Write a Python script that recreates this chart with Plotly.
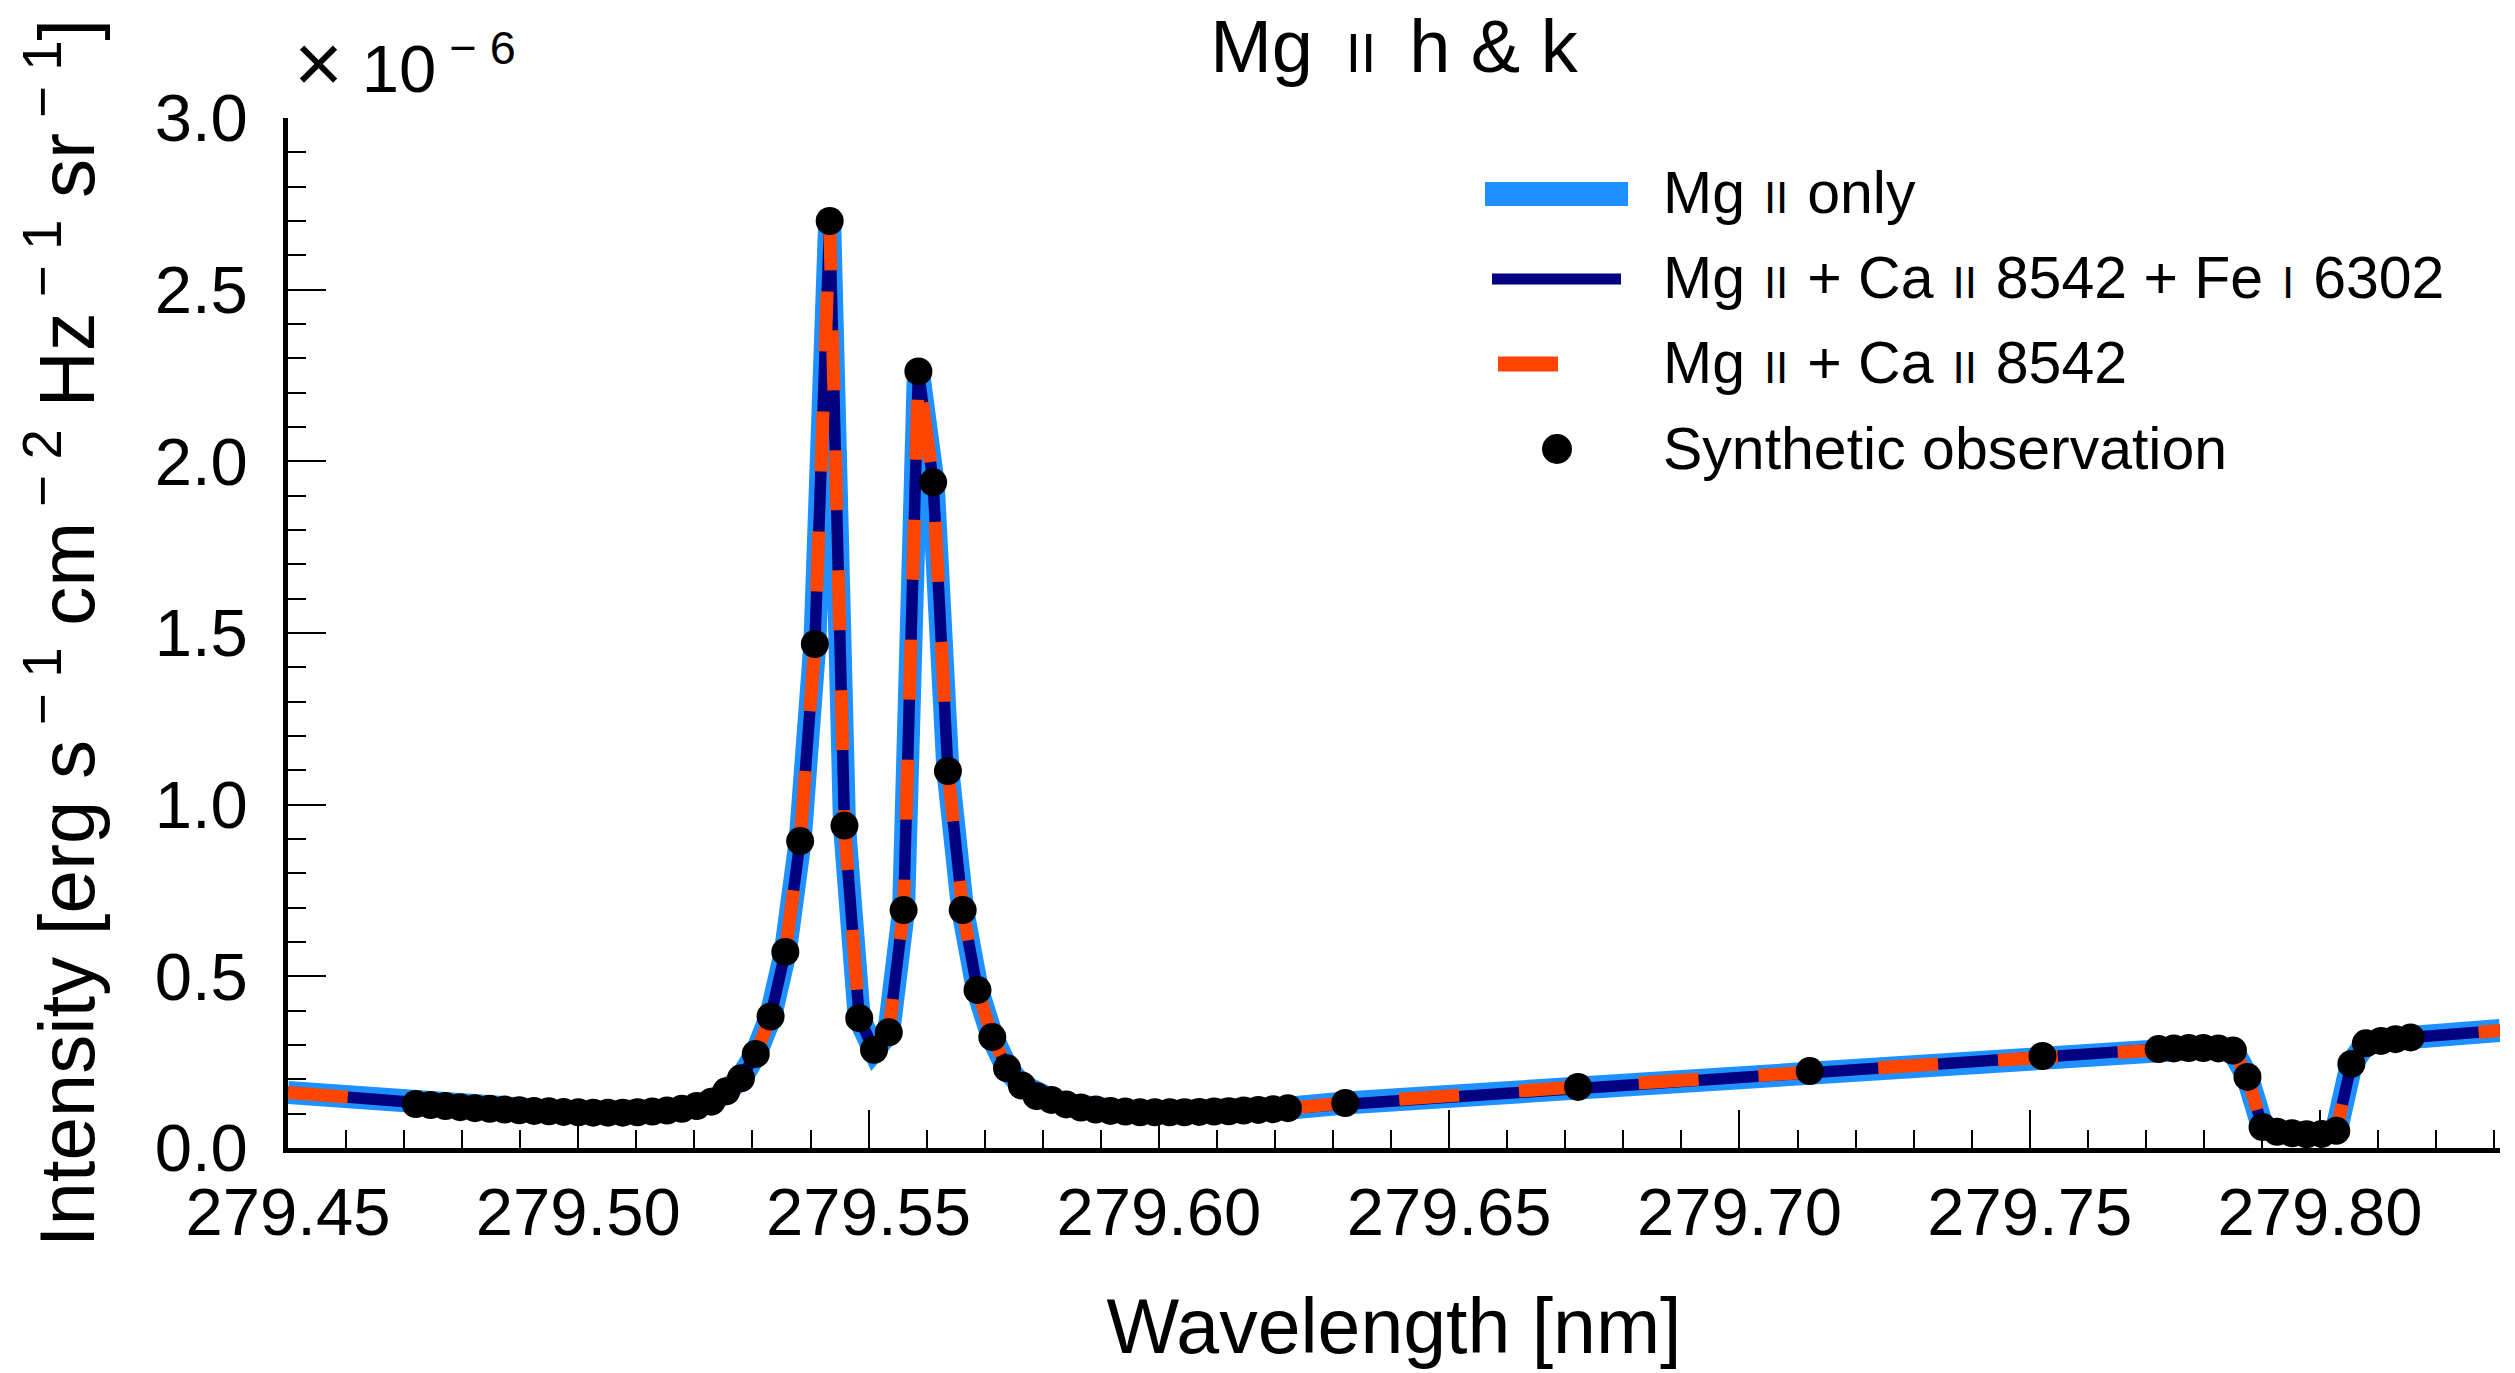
import plotly.graph_objects as go

# ---------------- data (intensity in units of 1e-6 erg s^-1 cm^-2 Hz^-1 sr^-1) ----------------
obs_wavelength = [
    279.47201, 279.47456, 279.47710, 279.47965, 279.48220, 279.48474, 279.48729, 279.48983,
    279.49238, 279.49493, 279.49747, 279.50002, 279.50256, 279.50511, 279.50766, 279.51020,
    279.51275, 279.51529, 279.51784, 279.52039, 279.52293, 279.52548, 279.52802, 279.53057,
    279.53312, 279.53566, 279.53821, 279.54075, 279.54330, 279.54585, 279.54839, 279.55094,
    279.55348, 279.55603, 279.55858, 279.56112, 279.56367, 279.56621, 279.56876, 279.57131,
    279.57385, 279.57640, 279.57894, 279.58149, 279.58404, 279.58658, 279.58913, 279.59167,
    279.59422, 279.59677, 279.59931, 279.60186, 279.60440, 279.60695, 279.60950, 279.61204,
    279.61459, 279.61713, 279.61968, 279.62223,
    279.6321, 279.6722, 279.7121, 279.7522,
    279.7722, 279.7748, 279.7774, 279.7799, 279.7825, 279.7850, 279.7875, 279.7901,
    279.7926, 279.7952, 279.7977, 279.8003, 279.8028, 279.8054, 279.8079, 279.8105,
    279.8130, 279.8156,
]
obs_intensity = [
    0.128, 0.125, 0.122, 0.119, 0.116, 0.114, 0.112, 0.110,
    0.108, 0.107, 0.105, 0.104, 0.103, 0.103, 0.103, 0.104,
    0.106, 0.109, 0.114, 0.122, 0.135, 0.165, 0.203, 0.274,
    0.383, 0.571, 0.894, 1.468, 2.700, 0.939, 0.378, 0.286,
    0.337, 0.693, 2.262, 1.939, 1.098, 0.693, 0.460, 0.323,
    0.232, 0.182, 0.151, 0.140, 0.127, 0.118, 0.112, 0.108,
    0.106, 0.104, 0.104, 0.104, 0.104, 0.105, 0.106, 0.107,
    0.109, 0.111, 0.113, 0.116,
    0.131, 0.178, 0.224, 0.268,
    0.288, 0.290, 0.291, 0.291, 0.290, 0.284, 0.207, 0.061,
    0.047, 0.043, 0.040, 0.041, 0.050, 0.245, 0.305, 0.312,
    0.317, 0.322,
]

# model profiles (identical at this scale) : extend to the plot edges
model_wavelength = [279.4500] + obs_wavelength + [279.8310]
int_mg_only = [0.162] + obs_intensity + [0.342]
int_mg_ca_fe = [0.162] + obs_intensity + [0.342]
int_mg_ca = [0.162] + obs_intensity + [0.342]

x_ticks = [279.45, 279.50, 279.55, 279.60, 279.65, 279.70, 279.75, 279.80]
y_ticks = [0.0, 0.5, 1.0, 1.5, 2.0, 2.5, 3.0]

FONT = "Liberation Sans, Arial, Helvetica, sans-serif"
W, H = 2515, 1373
L, R, T, B = 288, 2500, 118, 1148  # plot-area pixels


def sc(text, size, space_size):
    sp = f"<span style='font-size:{space_size}px'> </span>"
    return f"{sp}<span style='font-size:{size}px'>{text}</span>{sp}"


fig = go.Figure()
fig.add_trace(go.Scatter(x=model_wavelength, y=int_mg_only, mode="lines",
                         line=dict(color="#1E90FF", width=23), name="Mg II only", showlegend=False))
fig.add_trace(go.Scatter(x=model_wavelength, y=int_mg_ca_fe, mode="lines",
                         line=dict(color="#000080", width=11.5), name="Mg II + Ca II 8542 + Fe I 6302",
                         showlegend=False))
fig.add_trace(go.Scatter(x=model_wavelength, y=int_mg_ca, mode="lines",
                         line=dict(color="#FF4500", width=13, dash="60px,60px"),
                         name="Mg II + Ca II 8542", showlegend=False))
fig.add_trace(go.Scatter(x=obs_wavelength, y=obs_intensity, mode="markers",
                         marker=dict(color="black", size=28, line=dict(width=0)),
                         name="Synthetic observation", showlegend=False))

# ---------------- manual legend ----------------
def px2paper_x(px):
    return (px - L) / (R - L)


def px2paper_y(py):
    return (B - py) / (B - T)


rows = [194, 279, 364, 449]           # sample (line / dot) centres
text_rows = [189, 274, 359, 449]      # label centres
legend_labels = [
    f"Mg{sc('II', 44, 68)}only",
    f"Mg{sc('II', 44, 68)}+ Ca{sc('II', 44, 68)}8542 + Fe{sc('I', 44, 68)}6302",
    f"Mg{sc('II', 44, 68)}+ Ca{sc('II', 44, 68)}8542",
    "Synthetic observation",
]
shapes = [
    dict(type="line", xref="paper", yref="paper", x0=px2paper_x(1485), x1=px2paper_x(1628),
         y0=px2paper_y(rows[0]), y1=px2paper_y(rows[0]), line=dict(color="#1E90FF", width=24)),
    dict(type="line", xref="paper", yref="paper", x0=px2paper_x(1492), x1=px2paper_x(1621),
         y0=px2paper_y(rows[1]), y1=px2paper_y(rows[1]), line=dict(color="#000080", width=11)),
    dict(type="line", xref="paper", yref="paper", x0=px2paper_x(1498), x1=px2paper_x(1558),
         y0=px2paper_y(rows[2]), y1=px2paper_y(rows[2]), line=dict(color="#FF4500", width=15)),
    dict(type="circle", xref="paper", yref="paper", xsizemode="pixel", ysizemode="pixel",
         xanchor=px2paper_x(1557), yanchor=px2paper_y(rows[3]), x0=-15, x1=15, y0=-15, y1=15,
         fillcolor="black", line=dict(width=0)),
]
annotations = []
for r, lab in zip(text_rows, legend_labels):
    annotations.append(dict(text=lab, xref="paper", yref="paper", x=px2paper_x(1661),
                            y=px2paper_y(r), xanchor="left", yanchor="middle", showarrow=False,
                            font=dict(family=FONT, size=59, color="black")))
annotations.append(dict(text="<span style='font-size:84px'>×</span> 10<sup> − 6</sup>",
                        xref="paper", yref="paper", x=0, y=1,
                        xanchor="left", yanchor="bottom", xshift=4, yshift=6, showarrow=False,
                        font=dict(family=FONT, size=67, color="black")))

fig.update_layout(
    width=W, height=H, autosize=False,
    margin=dict(l=L, r=W - R, t=T, b=H - B, pad=0),
    paper_bgcolor="white", plot_bgcolor="white",
    font=dict(family=FONT, color="black"),
    title=dict(text=f"Mg{sc('II', 55, 118)}h & k", x=(L + R) / 2 / W, xanchor="center",
               y=1 - 46 / H, yanchor="middle", font=dict(family=FONT, size=74, color="black")),
    shapes=shapes, annotations=annotations,
    showlegend=False,
)
fig.update_xaxes(
    range=[279.45, 279.831], showgrid=False, zeroline=False,
    showline=True, linecolor="black", linewidth=4.5, mirror=False,
    ticks="inside", ticklen=38, tickwidth=2.2, tickcolor="black",
    tickvals=x_ticks, ticktext=[f"{v:.2f}" for v in x_ticks],
    tickfont=dict(family=FONT, size=67, color="black"), ticklabelstandoff=2,
    minor=dict(ticks="inside", ticklen=18, tickwidth=2, tickcolor="black", dtick=0.01,
               tick0=279.45, showgrid=False),
    layer="below traces",
    title=dict(text="Wavelength [nm]", font=dict(family=FONT, size=77, color="black"), standoff=52),
)
fig.update_yaxes(
    range=[0, 3.0], showgrid=False, zeroline=False,
    showline=True, linecolor="black", linewidth=4.5, mirror=False,
    ticks="inside", ticklen=38, tickwidth=2.2, tickcolor="black",
    tickvals=y_ticks, ticktext=[f"{v:.1f}" for v in y_ticks],
    tickfont=dict(family=FONT, size=67, color="black"), ticklabelstandoff=22,
    minor=dict(ticks="inside", ticklen=18, tickwidth=2, tickcolor="black", dtick=0.1,
               tick0=0, showgrid=False),
    layer="below traces",
    title=dict(text="Intensity [erg s<sup> − 1</sup> cm<sup> − 2</sup> Hz<sup> − 1</sup> sr<sup> − 1</sup>]",
               font=dict(family=FONT, size=78, color="black"), standoff=36),
)

fig.write_html("out.html", config={"displayModeBar": False},
               post_script="document.body.style.margin='0';")
